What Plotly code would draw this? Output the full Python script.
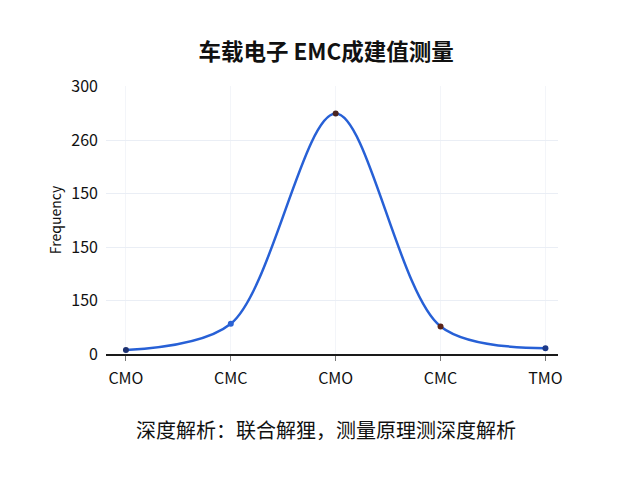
import plotly.graph_objects as go

# 类别（x轴标签有重复，所以用位置 + ticktext）
categories = ["CMO", "CMC", "CMO", "CMC", "TMO"]
positions = [0, 1, 2, 3, 4]
values = [4.5, 34, 270, 31, 6.5]
point_colors = ["#1d3170", "#2a62d4", "#4a2420", "#5a2418", "#1d3a8a"]

# y轴刻度（原图标签如此）
ytick_vals = [0, 60, 120, 180, 240, 300]
ytick_text = ["0", "150", "150", "150", "260", "300"]

title_text = "<b>车载电子 EMC成建值测量</b>"
footer_text = "深度解析：联合解狸，测量原理测深度解析"
font_cjk = "Noto Sans CJK SC"

fig = go.Figure()
fig.add_trace(
    go.Scatter(x=positions, y=values, mode="lines+markers",
               line=dict(color="#2760d6", width=2.5, shape="spline", smoothing=0.9),
               marker=dict(color=point_colors, size=6),
               showlegend=False)
)

# 页面有 8px 的 body 边距，所以边距都减了 8
fig.update_layout(
    width=640, height=480,
    paper_bgcolor="white", plot_bgcolor="white",
    margin=dict(l=98, r=90, t=78, b=134),
    font=dict(family=font_cjk, color="#111111", size=16),
    title=dict(text=title_text, x=0.497, xanchor="center", y=0.908, yanchor="middle",
               font=dict(size=22.5, color="#111111")),
)
fig.update_xaxes(
    range=[-0.19, 4.12], tickvals=positions, ticktext=categories,
    showgrid=True, gridcolor="#f3f5f9", gridwidth=1,
    showline=True, linecolor="#1a1a1a", linewidth=2,
    ticks="outside", ticklen=5, tickcolor="#777777",
    ticklabelstandoff=4, zeroline=False,
)
fig.update_yaxes(
    range=[0, 301], tickvals=ytick_vals, ticktext=ytick_text,
    showgrid=True, gridcolor="#eaeef5", gridwidth=1,
    zeroline=False, showline=False, ticklabelstandoff=7,
    title=dict(text="Frequency", font=dict(size=14), standoff=6),
)
fig.add_annotation(text=footer_text, xref="paper", yref="paper",
                   x=0.487, y=-0.28, xanchor="center", yanchor="middle",
                   showarrow=False, font=dict(size=20, color="#111111"))

fig.write_html("out.html")
